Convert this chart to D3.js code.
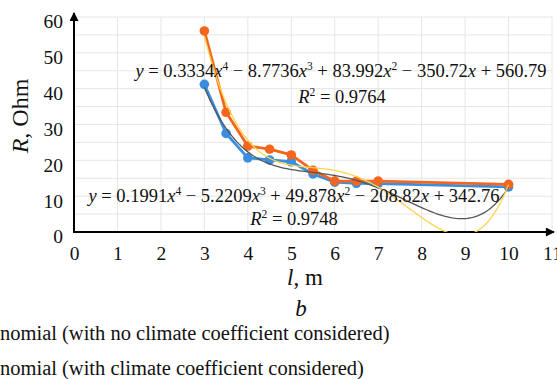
<!DOCTYPE html>
<html>
<head>
<meta charset="utf-8">
<script src="https://cdn.jsdelivr.net/npm/d3@7"></script>
<style>
  html, body { margin: 0; padding: 0; background: #fff; }
  svg { display: block; font-family: "Liberation Serif", "Times New Roman", serif; }
</style>
</head>
<body>
<svg id="chart" width="557" height="379"></svg>
<script>
// measured points, l in metres, R in Ohm
const lengths = [3, 3.5, 4, 4.5, 5, 5.5, 6, 6.5, 7, 10];
const rNoClimate = [41.2, 27.5, 20.7, 20.1, 19.6, 16.2, 13.9, 13.6, 13.5, 12.6];
const rClimate = [56.1, 33.4, 24.0, 23.1, 21.5, 17.2, 14.2, 14.2, 14.2, 13.3];

// trendline coefficients as printed on the chart (c0 + c1 x + ... + c4 x^4)
const polyClimate = [560.79, -350.72, 83.992, -8.7736, 0.3334];
const polyNoClimate = [342.76, -208.82, 49.878, -5.2209, 0.1991];

const xTicks = d3.range(0, 12);
const yTicks = [0, 10, 20, 30, 40, 50, 60];

const legendLabels = [
  'Polynomial (with no climate coefficient considered)',
  'Polynomial (with climate coefficient considered)'
];

const svg = d3.select('#chart');
const x = d3.scaleLinear().domain([0, 11]).range([74, 552]);
const y = d3.scaleLinear().domain([0, 60]).range([232, 17]);

const defs = svg.append('defs');
defs.append('clipPath').attr('id', 'plot')
  .append('rect')
  .attr('x', x(0)).attr('y', y(60) - 3)
  .attr('width', x(11) - x(0)).attr('height', y(0) - y(60) + 3);
defs.append('marker')
  .attr('id', 'arrow')
  .attr('viewBox', '0 0 10 10')
  .attr('refX', 9).attr('refY', 5)
  .attr('markerWidth', 5.5).attr('markerHeight', 4.5)
  .attr('markerUnits', 'strokeWidth')
  .attr('orient', 'auto')
  .append('path')
  .attr('d', 'M0,0 L10,5 L0,10 z')
  .attr('fill', '#000');

// grid
const grid = svg.append('g');
grid.selectAll('.vg')
  .data(d3.range(1, 12))
  .enter().append('line')
  .attr('x1', d => x(d)).attr('x2', d => x(d))
  .attr('y1', y(0)).attr('y2', y(60))
  .attr('stroke', '#e6e6e6').attr('stroke-width', 1);
grid.selectAll('.hg')
  .data(d3.range(5, 61, 5))
  .enter().append('line')
  .attr('x1', x(0)).attr('x2', x(11))
  .attr('y1', d => y(d)).attr('y2', d => y(d))
  .attr('stroke', '#e6e6e6').attr('stroke-width', 1);

// axes
const xAxis = svg.append('g')
  .attr('transform', `translate(0,${y(0)})`)
  .call(d3.axisBottom(x).tickValues(xTicks).tickSize(0).tickPadding(14).tickFormat(d3.format('d')));
const yAxis = svg.append('g')
  .attr('transform', `translate(${x(0)},0)`)
  .call(d3.axisLeft(y).tickValues(yTicks).tickSize(0).tickPadding(11).tickFormat(d3.format('d')));
[xAxis, yAxis].forEach(a => {
  a.select('.domain').remove();
  a.selectAll('text')
    .attr('font-family', '"Liberation Serif", serif')
    .attr('font-size', 19.5)
    .attr('fill', '#111');
});
yAxis.selectAll('text').attr('dy', '0.56em');

svg.append('line')
  .attr('x1', x(0)).attr('y1', y(0))
  .attr('x2', x(11) + 2).attr('y2', y(0))
  .attr('stroke', '#000').attr('stroke-width', 2)
  .attr('marker-end', 'url(#arrow)');
svg.append('line')
  .attr('x1', x(0)).attr('y1', y(0) + 1)
  .attr('x2', x(0)).attr('y2', y(60) - 4)
  .attr('stroke', '#000').attr('stroke-width', 2)
  .attr('marker-end', 'url(#arrow)');

// series
const plot = svg.append('g').attr('clip-path', 'url(#plot)');
const line = d3.line().x(d => x(d[0])).y(d => y(d[1]));

const series = [
  { values: rNoClimate, color: '#3a8ee0' },
  { values: rClimate, color: '#f4651d' }
];
series.forEach(s => {
  const pts = lengths.map((l, i) => [l, s.values[i]]);
  plot.append('path')
    .datum(pts)
    .attr('d', line)
    .attr('fill', 'none')
    .attr('stroke', s.color)
    .attr('stroke-width', 2.8)
    .attr('stroke-linejoin', 'round');
  plot.selectAll(null)
    .data(pts)
    .enter().append('circle')
    .attr('cx', d => x(d[0]))
    .attr('cy', d => y(d[1]))
    .attr('r', 4.8)
    .attr('fill', s.color);
});

// trendlines
const polyVal = (c, v) => c.reduce((acc, k, i) => acc + k * Math.pow(v, i), 0);
const trends = [
  { coef: polyNoClimate, color: '#555555' },
  { coef: polyClimate, color: '#ffd34a' }
];
trends.forEach(t => {
  const pts = d3.range(3, 10.001, 0.05).map(v => [v, polyVal(t.coef, v)]);
  plot.append('path')
    .datum(pts)
    .attr('d', line)
    .attr('fill', 'none')
    .attr('stroke', t.color)
    .attr('stroke-width', 1.3);
});

// equations
function equation(g, xPos, yPos, c) {
  const t = g.append('text')
    .attr('x', xPos).attr('y', yPos)
    .attr('font-size', 18.5)
    .attr('text-anchor', 'middle')
    .attr('fill', '#111');
  const fmt = v => Math.abs(v).toString();
  const sign = v => v < 0 ? ' \u2212 ' : ' + ';
  t.append('tspan').attr('font-style', 'italic').text('y');
  t.append('tspan').text(' = ' + fmt(c[4]));
  t.append('tspan').attr('font-style', 'italic').text('x');
  t.append('tspan').attr('font-size', 11.5).attr('dy', -7).text('4');
  t.append('tspan').attr('dy', 7).text(sign(c[3]) + fmt(c[3]));
  t.append('tspan').attr('font-style', 'italic').text('x');
  t.append('tspan').attr('font-size', 11.5).attr('dy', -7).text('3');
  t.append('tspan').attr('dy', 7).text(sign(c[2]) + fmt(c[2]));
  t.append('tspan').attr('font-style', 'italic').text('x');
  t.append('tspan').attr('font-size', 11.5).attr('dy', -7).text('2');
  t.append('tspan').attr('dy', 7).text(sign(c[1]) + fmt(c[1]));
  t.append('tspan').attr('font-style', 'italic').text('x');
  t.append('tspan').text(sign(c[0]) + fmt(c[0]));
}
function rSquared(g, xPos, yPos, val) {
  const t = g.append('text')
    .attr('x', xPos).attr('y', yPos)
    .attr('font-size', 18.5)
    .attr('text-anchor', 'middle')
    .attr('fill', '#111');
  t.append('tspan').attr('font-style', 'italic').text('R');
  t.append('tspan').attr('font-size', 11.5).attr('dy', -7).text('2');
  t.append('tspan').attr('dy', 7).text(' = ' + val);
}
const labels = svg.append('g');
equation(labels, 341, 77, polyClimate);
rSquared(labels, 342, 103, '0.9764');
equation(labels, 294, 202, polyNoClimate);
rSquared(labels, 294, 225, '0.9748');

// axis titles
const yt = svg.append('text')
  .attr('transform', 'translate(28,116) rotate(-90)')
  .attr('text-anchor', 'middle')
  .attr('font-size', 24)
  .attr('fill', '#111');
yt.append('tspan').attr('font-style', 'italic').text('R');
yt.append('tspan').text(', Ohm');

const xt = svg.append('text')
  .attr('x', 305).attr('y', 285)
  .attr('text-anchor', 'middle')
  .attr('font-size', 23)
  .attr('fill', '#111');
xt.append('tspan').attr('font-style', 'italic').text('l');
xt.append('tspan').text(', m');

svg.append('text')
  .attr('x', 301).attr('y', 316)
  .attr('text-anchor', 'middle')
  .attr('font-size', 23)
  .attr('font-style', 'italic')
  .attr('fill', '#111')
  .text('b');

// legend, cut off at the left edge of the picture
legendLabels.forEach((lbl, i) => {
  const t = svg.append('text')
    .attr('y', 340 + i * 35)
    .attr('font-size', 20.5)
    .attr('fill', '#111')
    .text(lbl);
  const skip = t.node().getSubStringLength(0, 4);
  t.attr('x', -skip);
});
</script>
</body>
</html>
